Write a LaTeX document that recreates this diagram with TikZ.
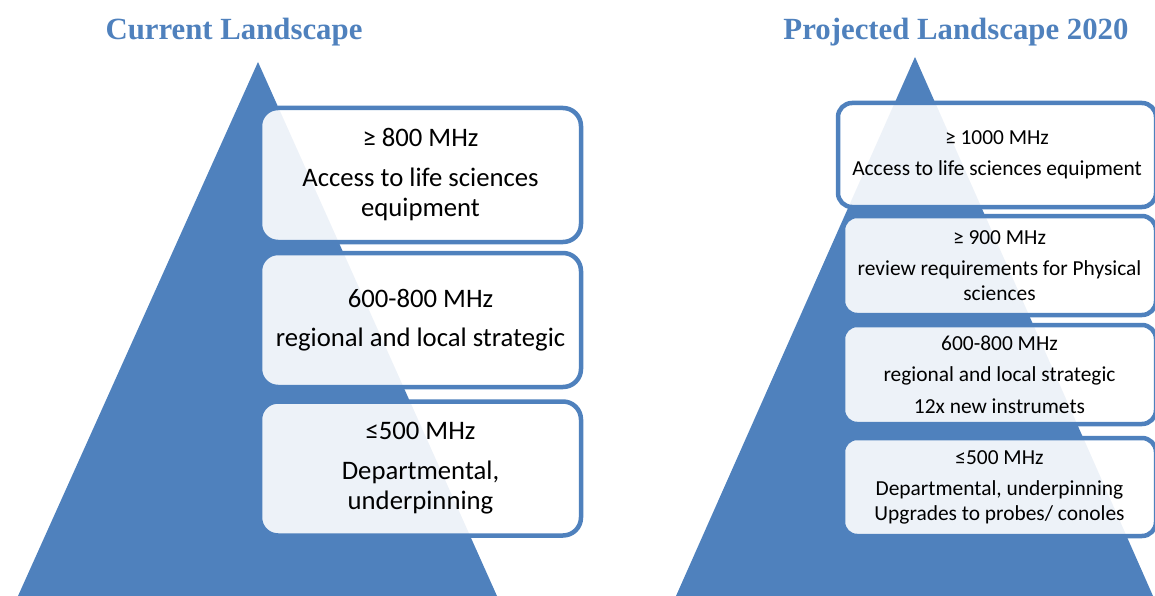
\documentclass[tikz,border=0pt]{standalone}
\usepackage{fontspec}
\setmainfont{Carlito}
\newfontfamily\headfont{Liberation Serif}
\definecolor{pyrblue}{HTML}{4F81BD}

\begin{document}
\begin{tikzpicture}[x=1pt, y=-1pt, line join=round,
	head/.style={text=pyrblue, anchor=base, font=\headfont\bfseries\fontsize{30.8}{36}\selectfont},
	tier/.style={draw=pyrblue, line width=4.5pt, fill=white, fill opacity=0.9, text opacity=1,
		align=center, inner sep=0pt, text=black},
	bigtier/.style={tier, rounded corners=18pt, minimum width=321pt, minimum height=134pt,
		font=\fontsize{26.7}{30.5}\selectfont},
	smalltier/.style={tier, rounded corners=14pt, minimum width=313pt, minimum height=99pt,
		font=\fontsize{21.4}{24.5}\selectfont}]
	\useasboundingbox (0,0) rectangle (1155,596);
	\path
	(258,62)coordinate(LT)
	(18,596)coordinate(LL)
	(497,596)coordinate(LR)
	(915,57)coordinate(RT)
	(676,596)coordinate(RL)
	(1153,596)coordinate(RR)
	;
	% the two pyramids
	\fill[pyrblue] (LT)--(LL)--(LR)--cycle;
	\fill[pyrblue] (RT)--(RL)--(RR)--cycle;
	
	\node[head] (curhead) at (234,40) {Current Landscape};
	\node[head] (prjhead) at (956,40) {Projected Landscape 2020};
	
	% current tiers
	\node[bigtier] (cur1) at (420.5,175) {≥ 800 MHz\\[9pt]Access to life sciences\\equipment};
	\node[bigtier] (cur2) at (420.5,320) {600-800 MHz\\[9pt]regional and local strategic};
	\node[bigtier] (cur3) at (420.5,468.5) {≤500 MHz\\[9pt]Departmental,\\underpinning};
	
	% projected tiers
	\node[smalltier, minimum width=318pt, minimum height=104pt] (prj1) at (997,155)
		{≥ 1000 MHz\\[7pt]Access to life sciences equipment};
	\node[smalltier] (prj2) at (999.5,265.5)
		{≥ 900 MHz\\[7pt]review requirements for Physical\\sciences};
	\node[smalltier] (prj3) at (999.5,374.5)
		{600-800 MHz\\[7pt]regional and local strategic\\[7pt]12x new instrumets};
	\node[smalltier, minimum height=98pt] (prj4) at (999.5,487)
		{≤500 MHz\\[7pt]Departmental, underpinning\\Upgrades to probes/ conoles};
\end{tikzpicture}
\end{document}
